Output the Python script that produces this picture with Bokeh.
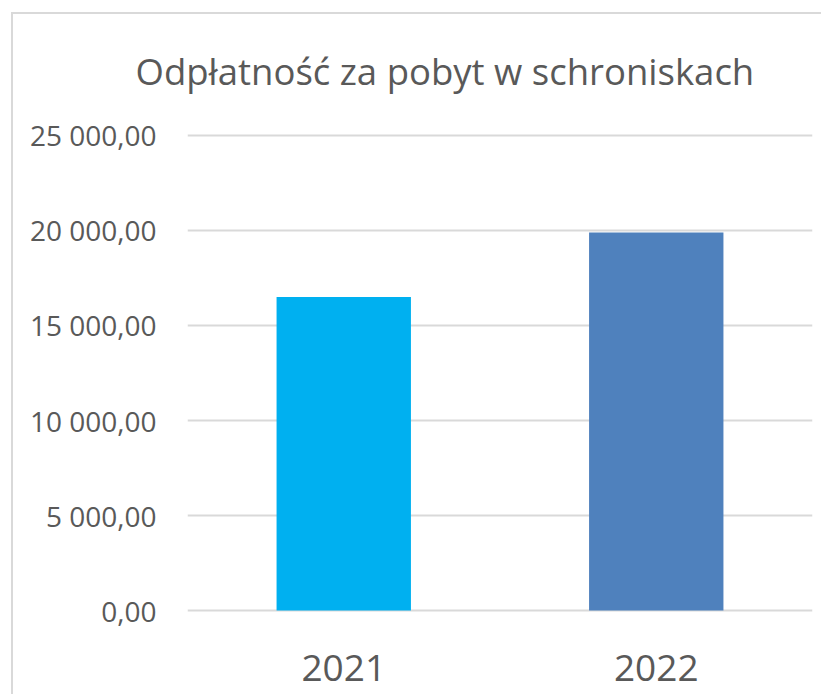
from bokeh.plotting import figure
from bokeh.models import Range1d, FixedTicker, FactorRange
from bokeh.embed import file_html
from bokeh.resources import INLINE

title_text = "Odpłatność za pobyt w schroniskach"
years = ["2021", "2022"]
values = [16500, 19900]
colors = ["#00B0F0", "#4F81BD"]
y_ticks = [0, 5000, 10000, 15000, 20000, 25000]
y_tick_labels = ["0,00", "5 000,00", "10 000,00", "15 000,00", "20 000,00", "25 000,00"]

FONT = "Open Sans"
TXT = "#595959"

p = figure(
    x_range=FactorRange(*years, range_padding=0),
    y_range=Range1d(-789, 25789),
    width=810, height=682,
    output_backend="svg", toolbar_location=None,
    min_border_left=174, min_border_right=11,
    min_border_top=106, min_border_bottom=71,
    title=title_text,
)
p.styles = {"border-left": "2px solid #d9d9d9", "border-top": "2px solid #d9d9d9",
            "margin-left": "11px", "margin-top": "12px"}
p.outline_line_color = None
p.background_fill_color = "white"
p.border_fill_color = "white"

p.title.text_font = FONT
p.title.text_font_size = "36.5px"
p.title.text_font_style = "normal"
p.title.text_color = TXT
p.title.align = "left"
p.title.offset = -52
p.title.standoff = 50

p.vbar(x=years, top=values, width=0.43, color=colors, line_color=None)

p.xgrid.grid_line_color = None
p.ygrid.grid_line_color = "#d9d9d9"
p.ygrid.grid_line_width = 2
p.yaxis.ticker = FixedTicker(ticks=y_ticks)
p.yaxis.major_label_overrides = {t: l for t, l in zip(y_ticks, y_tick_labels)}

for ax in (p.xaxis[0], p.yaxis[0]):
    ax.axis_line_color = None
    ax.major_tick_line_color = None
    ax.minor_tick_line_color = None
    ax.major_label_text_font = FONT
    ax.major_label_text_color = TXT
p.yaxis.major_label_text_font_size = "28px"
p.yaxis.major_label_standoff = 25
p.xaxis.major_label_text_font_size = "37px"
p.xaxis.major_label_standoff = 23

open("out.html", "w").write(file_html(p, INLINE))
